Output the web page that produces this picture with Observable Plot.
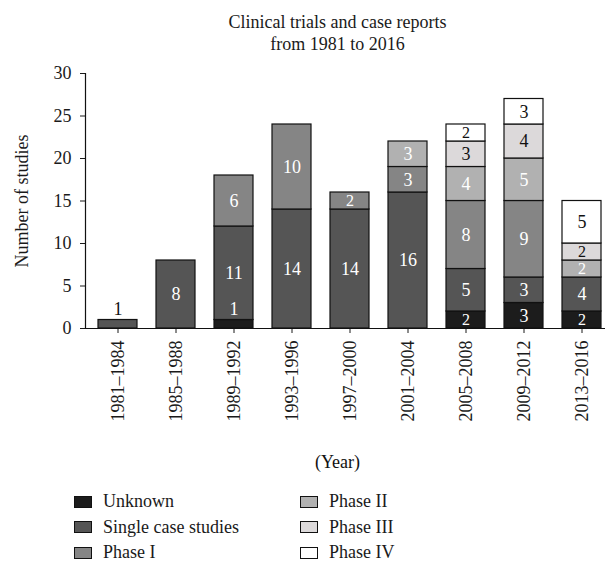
<!DOCTYPE html>
<html>
<head>
<meta charset="utf-8">
<script src="https://cdn.jsdelivr.net/npm/d3@7"></script>
<script src="https://cdn.jsdelivr.net/npm/@observablehq/plot@0.6"></script>
<style>
  html, body { margin: 0; padding: 0; background: white; overflow: hidden; }
  body { width: 605px; height: 562px; font-family: "Liberation Serif", "DejaVu Serif", serif; color: #1a1a1a; }
  #title { box-sizing: border-box; height: 55px; padding-top: 11px; padding-left: 70px; text-align: center; font-size: 18px; line-height: 22px; }
  #chart svg { display: block; }
  #legend { box-sizing: border-box; padding-top: 9px; padding-left: 74px; display: grid; grid-template-columns: 226px 200px; grid-template-rows: repeat(3, 25.5px); grid-auto-flow: column; font-size: 18px; }
  .item { display: flex; align-items: center; }
  .sw { width: 16px; height: 10px; border: 1.2px solid #111; margin-right: 11px; }
</style>
</head>
<body>
<div id="title">Clinical trials and case reports<br>from 1981 to 2016</div>
<div id="chart"></div>
<div id="legend"></div>
<script>
const periods = ["1981–1984","1985–1988","1989–1992","1993–1996","1997–2000","2001–2004","2005–2008","2009–2012","2013–2016"];
const categories = ["Unknown","Single case studies","Phase I","Phase II","Phase III","Phase IV"];
const colors = ["#1c1c1c","#555555","#858585","#b1b1b1","#dcd9da","#ffffff"];
const labelColors = ["white","white","white","white","#111","#111"];
const unknown    = [0,0,1,0,0,0,2,3,2];
const singleCase = [1,8,11,14,14,16,5,3,4];
const phaseI     = [0,0,6,10,2,3,8,9,0];
const phaseII    = [0,0,0,0,0,3,4,5,2];
const phaseIII   = [0,0,0,0,0,0,3,4,2];
const phaseIV    = [0,0,0,0,0,0,2,3,5];
const yTicks = [0,5,10,15,20,25,30];

const series = [unknown, singleCase, phaseI, phaseII, phaseIII, phaseIV];
const rows = [];
periods.forEach((p, i) => {
  let base = 0;
  series.forEach((s, k) => {
    const v = s[i];
    if (v > 0) {
      const y1 = base, y2 = base + v;
      const small = v < 2;
      rows.push({period: p, cat: categories[k], v, y1, y2,
        ly: small ? y2 + 1.3 : (y1 + y2) / 2,
        fs: v === 2 ? 16 : 18,
        lc: small && s === singleCase ? "#111" : labelColors[k]});
      base = y2;
    }
  });
});

const chart = Plot.plot({
  width: 605,
  height: 425,
  marginLeft: 85,
  marginRight: 0,
  marginTop: 18,
  marginBottom: 152,
  style: {fontFamily: "'Liberation Serif', 'DejaVu Serif', serif", fontSize: "18px", color: "#1a1a1a", background: "white"},
  x: {domain: periods, range: [85, 614], paddingInner: 0.32, paddingOuter: 0.172, axis: null},
  y: {domain: [0, 30], axis: null},
  color: {domain: categories, range: colors},
  marks: [
    Plot.barY(rows, {x: "period", y1: "y1", y2: "y2", fill: "cat", stroke: "#111", strokeWidth: 1.2}),
    Plot.text(rows.filter(d => d.lc === "white" && d.fs === 18), {x: "period", y: "ly", text: d => String(d.v), fill: "white", fontSize: 18}),
    Plot.text(rows.filter(d => d.lc === "white" && d.fs === 16), {x: "period", y: "ly", text: d => String(d.v), fill: "white", fontSize: 16}),
    Plot.text(rows.filter(d => d.lc !== "white" && d.fs === 18), {x: "period", y: "ly", text: d => String(d.v), fill: "#111", fontSize: 18}),
    Plot.text(rows.filter(d => d.lc !== "white" && d.fs === 16), {x: "period", y: "ly", text: d => String(d.v), fill: "#111", fontSize: 16}),
    Plot.axisY({ticks: yTicks, tickSize: 5, tickPadding: 9, fontSize: 18, label: "Number of studies", labelAnchor: "center", labelOffset: 70, labelArrow: "none"}),
    Plot.axisX({tickRotate: -90, tickSize: 5, tickPadding: 7, fontSize: 18, label: null}),
    Plot.frame({anchor: "left", stroke: "#111", strokeWidth: 1.2}),
    Plot.frame({anchor: "bottom", stroke: "#111", strokeWidth: 1.2}),
    Plot.text(["(Year)"], {frameAnchor: "bottom", dy: 134, dx: -8, lineAnchor: "middle", fontSize: 18, fill: "#111"})
  ]
});
document.getElementById("chart").appendChild(chart);

const legend = document.getElementById("legend");
categories.forEach((c, k) => {
  const item = document.createElement("div");
  item.className = "item";
  const sw = document.createElement("span");
  sw.className = "sw";
  sw.style.background = colors[k];
  const t = document.createElement("span");
  t.textContent = c;
  item.appendChild(sw);
  item.appendChild(t);
  legend.appendChild(item);
});
</script>
</body>
</html>
